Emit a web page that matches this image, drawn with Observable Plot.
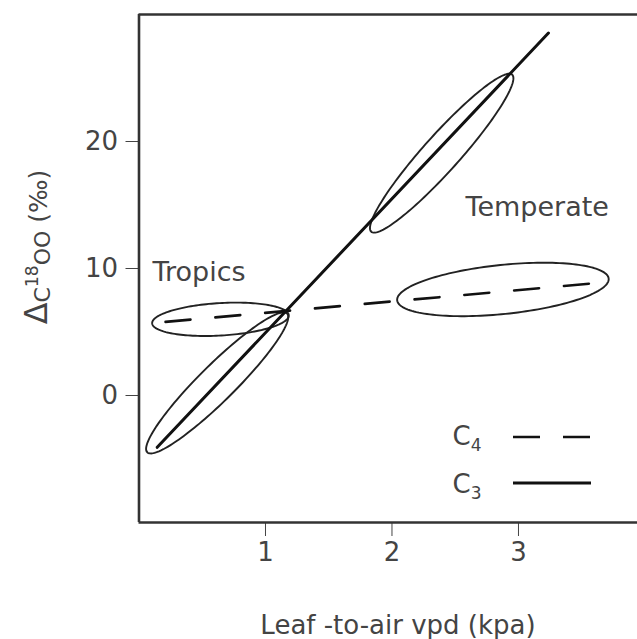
<!DOCTYPE html>
<html>
<head>
<meta charset="utf-8">
<script src="https://cdn.jsdelivr.net/npm/d3@7"></script>
<script src="https://cdn.jsdelivr.net/npm/@observablehq/plot@0.6"></script>
<style>
  html, body { margin: 0; padding: 0; background: #fff; }
  #chart { width: 637px; height: 639px; }
  svg { display: block; }
</style>
</head>
<body>
<div id="chart"></div>
<script>
// ---- data ----
const xDomain = [0, 3.941];
const yDomain = [-10, 30];
const xTicks = [1, 2, 3];
const yTicks = [0, 10, 20];

// fitted relationships (end points)
const c3X = [0.144, 3.237];
const c3Y = [-4.08, 28.54];
const c4X = [0.21, 3.61];
const c4Y = [5.8, 8.85];

// ellipses: centre, semi-major vector (u), semi-minor vector (v), in data units
const ellipseNames = ["Tropics C4", "Tropics C3", "Temperate C3", "Temperate C4"];
const ellipseCx = [0.644, 0.618, 2.393, 2.877];
const ellipseCy = [6.0, 0.99, 19.08, 8.35];
const ellipseUx = [0.540, 0.553, 0.557, 0.836];
const ellipseUy = [0.316, 5.46, 6.184, 0.856];
const ellipseVx = [0.0075, 0.10, 0.1058, 0.0198];
const ellipseVy = [-1.276, -1.01, -0.950, -1.924];

// region annotations
const regionLabels = ["Tropics", "Temperate"];
const regionX = [0.107, 2.581];
const regionY = [9.67, 14.8];

const legendLabels = ["C", "C"];
const legendSubs = ["4", "3"];

const xLabel = "Leaf -to-air vpd (kpa)";

// ---- build mark data ----
const c3 = c3X.map((x, i) => ({x, y: c3Y[i]}));
const c4 = c4X.map((x, i) => ({x, y: c4Y[i]}));
const ellipsePts = [];
ellipseNames.forEach((name, i) => {
  const n = 160;
  for (let k = 0; k <= n; k++) {
    const t = 2 * Math.PI * k / n;
    ellipsePts.push({
      name,
      x: ellipseCx[i] + ellipseUx[i] * Math.cos(t) + ellipseVx[i] * Math.sin(t),
      y: ellipseCy[i] + ellipseUy[i] * Math.cos(t) + ellipseVy[i] * Math.sin(t)
    });
  }
});
const regions = regionLabels.map((label, i) => ({label, x: regionX[i], y: regionY[i]}));

const ink = "#444";
const font = "DejaVu Sans";

const chart = Plot.plot({
  width: 637,
  height: 639,
  marginLeft: 138.5,
  marginRight: 0,
  marginTop: 14,
  marginBottom: 117,
  style: {fontFamily: font, fontSize: "26px", color: ink, background: "#fff"},
  x: {domain: xDomain, ticks: xTicks, tickSize: 14, tickPadding: 6, label: null, tickFormat: d3.format("d")},
  y: {domain: yDomain, ticks: yTicks, tickSize: 13, tickPadding: 8, label: null, tickFormat: d3.format("d")},
  marks: [
    Plot.ruleY([yDomain[0], yDomain[1]], {stroke: "#333", strokeWidth: 2.6}),
    Plot.ruleX([xDomain[0]], {stroke: "#333", strokeWidth: 2.6}),
    Plot.line(ellipsePts, {x: "x", y: "y", z: "name", stroke: "#222", strokeWidth: 1.9, curve: "linear"}),
    Plot.line(c4, {x: "x", y: "y", stroke: "#111", strokeWidth: 2.6, strokeDasharray: "25,25"}),
    Plot.line(c3, {x: "x", y: "y", stroke: "#111", strokeWidth: 3}),
    Plot.text(regions, {x: "x", y: "y", text: "label", textAnchor: "start", fill: ink, fontSize: 27})
  ]
});
document.getElementById("chart").appendChild(chart);

// ---- axis titles and legend ----
const svg = d3.select(chart);

svg.append("text")
  .attr("x", 398).attr("y", 634)
  .attr("text-anchor", "middle")
  .attr("font-family", font).attr("font-size", 26).attr("fill", ink)
  .text(xLabel);

const yl = svg.append("text")
  .attr("transform", "translate(47,247) rotate(-90)")
  .attr("text-anchor", "middle")
  .attr("font-family", font).attr("fill", ink);
yl.append("tspan").attr("font-size", 32).text("Δ");
yl.append("tspan").attr("font-size", 22).attr("dy", 3).text("C");
yl.append("tspan").attr("font-size", 17).attr("dy", -12).text("18");
yl.append("tspan").attr("font-size", 22).attr("dy", 12).text("OO");
yl.append("tspan").attr("font-size", 25).attr("dy", -3).text(" (‰)");

// legend
const legY = [445, 493];
const legLineY = [437, 483];
legendLabels.forEach((lab, i) => {
  const t = svg.append("text")
    .attr("x", 467).attr("y", legY[i])
    .attr("font-family", font).attr("fill", ink);
  t.append("tspan").attr("font-size", 26).text(lab);
  t.append("tspan").attr("font-size", 17).attr("dy", 6).text(legendSubs[i]);
  svg.append("line")
    .attr("x1", 513).attr("x2", 591)
    .attr("y1", legLineY[i]).attr("y2", legLineY[i])
    .attr("stroke", "#111").attr("stroke-width", i === 0 ? 2.6 : 3)
    .attr("stroke-dasharray", i === 0 ? "27,23" : null);
});
</script>
</body>
</html>
